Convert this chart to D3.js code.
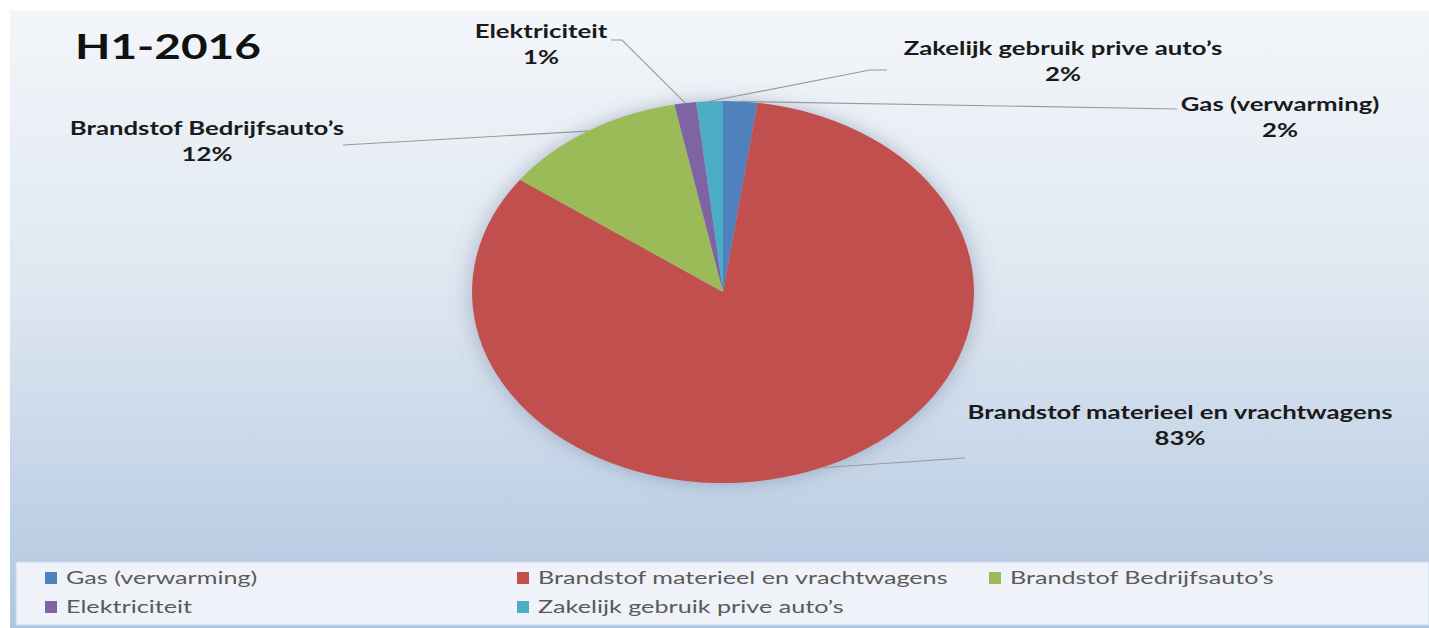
<!DOCTYPE html>
<html lang="nl">

<head>
    <meta charset="UTF-8">
    <title>H1-2016</title>
    <script src="https://d3js.org/d3.v7.min.js"></script>
    <style>
        body {
            margin: 0;
            overflow: hidden;
            background: white;
        }

        svg {
            display: block;
        }

        .label {
            font-family: Lato, "Open Sans", sans-serif;
            font-weight: bold;
            font-size: 18px;
            fill: #1a1a1a;
        }

        .legend-text {
            font-family: Lato, "Open Sans", sans-serif;
            font-size: 18px;
            fill: #5a5a5a;
        }
    </style>
</head>

<body>
    <script>
        // Data
        const categories = [
            "Gas (verwarming)",
            "Brandstof materieel en vrachtwagens",
            "Brandstof Bedrijfsauto’s",
            "Elektriciteit",
            "Zakelijk gebruik prive auto’s"
        ];
        const values = [2.2, 82.8, 11.9, 1.4, 1.7];
        const colors = ["#4f81bd", "#c0504d", "#9bbb59", "#8064a2", "#4bacc6"];
        const title = "H1-2016";

        const width = 1429;
        const height = 628;

        // picture is stretched horizontally
        const stretch = 1.314;
        const textStretch = 1.43;
        const cx = 723, cy = 292, radius = 191;

        // label placement: text center / baseline and leader line bend points
        const labelLayout = [
            { x: 1280, y: 111, line: [[1177, 109]] },
            { x: 1180, y: 419, line: [[965, 458]] },
            { x: 207, y: 135, line: [[343, 145]] },
            { x: 541, y: 38, line: [[622, 40], [611, 40]] },
            { x: 1063, y: 55, line: [[870, 70], [887, 70]] }
        ];

        const legendCols = [45, 517, 989];
        const legendRows = [578, 607];
        const legendSlots = [[0, 0], [0, 1], [0, 2], [1, 0], [1, 1]];

        const svg = d3.select("body").append("svg")
            .attr("width", width)
            .attr("height", height);

        const defs = svg.append("defs");

        const grad = defs.append("linearGradient")
            .attr("id", "bg")
            .attr("x1", 0).attr("y1", 0)
            .attr("x2", 0).attr("y2", 1);
        grad.append("stop").attr("offset", 0).attr("stop-color", "#f3f6fa");
        grad.append("stop").attr("offset", 0.45).attr("stop-color", "#dfe7f1");
        grad.append("stop").attr("offset", 1).attr("stop-color", "#b0c6e0");

        const shadow = defs.append("filter")
            .attr("id", "shadow")
            .attr("x", "-20%").attr("y", "-20%")
            .attr("width", "140%").attr("height", "140%");
        shadow.append("feDropShadow")
            .attr("dx", 0)
            .attr("dy", 0)
            .attr("stdDeviation", 9)
            .attr("flood-color", "#5d6f8a")
            .attr("flood-opacity", 0.45);

        // Chart background
        svg.append("rect")
            .attr("x", 10)
            .attr("y", 10)
            .attr("width", width - 10)
            .attr("height", height - 10)
            .attr("fill", "url(#bg)");

        // Title
        svg.append("text")
            .attr("transform", "translate(75,59) scale(" + stretch + ",1)")
            .style("font-family", "Lato, 'Open Sans', sans-serif")
            .style("font-weight", "bold")
            .style("font-size", "35px")
            .style("fill", "#111")
            .text(title);

        // Pie
        const pie = d3.pie().sort(null).value(d => d)(values);
        const arc = d3.arc().innerRadius(0).outerRadius(radius);

        svg.append("g")
            .attr("transform", `translate(${cx},${cy}) scale(${stretch},1)`)
            .attr("filter", "url(#shadow)")
            .selectAll("path")
            .data(pie)
            .enter().append("path")
            .attr("d", arc)
            .attr("fill", (d, i) => colors[i]);

        // Point on the (stretched) pie edge at the middle of a slice
        function edgePoint(d) {
            const a = (d.startAngle + d.endAngle) / 2;
            return [cx + Math.sin(a) * radius * stretch, cy - Math.cos(a) * radius];
        }

        const fmt = d3.format(".0%");
        const total = d3.sum(values);

        // Leader lines
        svg.append("g")
            .selectAll("path")
            .data(pie)
            .enter().append("path")
            .attr("d", (d, i) => d3.line()([edgePoint(d)].concat(labelLayout[i].line)))
            .attr("fill", "none")
            .attr("stroke", "#9a9a9a")
            .attr("stroke-width", 1.2);

        // Data labels
        const labels = svg.append("g")
            .selectAll("g")
            .data(pie)
            .enter().append("g")
            .attr("transform", (d, i) => `translate(${labelLayout[i].x},${labelLayout[i].y}) scale(${textStretch},1)`);

        labels.append("text")
            .attr("class", "label")
            .attr("text-anchor", "middle")
            .text((d, i) => categories[i]);

        labels.append("text")
            .attr("class", "label")
            .attr("text-anchor", "middle")
            .attr("y", 26)
            .text(d => fmt(d.value / total));

        // Legend
        svg.append("rect")
            .attr("x", 16)
            .attr("y", 562)
            .attr("width", width - 16)
            .attr("height", 63)
            .attr("fill", "#eff2f8")
            .attr("stroke", "#c9d7e9")
            .attr("stroke-width", 1);

        const legend = svg.append("g")
            .selectAll("g")
            .data(categories)
            .enter().append("g")
            .attr("transform", (d, i) => `translate(${legendCols[legendSlots[i][1]]},${legendRows[legendSlots[i][0]]})`);

        legend.append("rect")
            .attr("x", 0)
            .attr("y", -6)
            .attr("width", 12)
            .attr("height", 12)
            .attr("fill", (d, i) => colors[i]);

        legend.append("text")
            .attr("class", "legend-text")
            .attr("transform", `translate(21,6) scale(${textStretch - 0.03},1)`)
            .text(d => d);
    </script>
</body>

</html>
